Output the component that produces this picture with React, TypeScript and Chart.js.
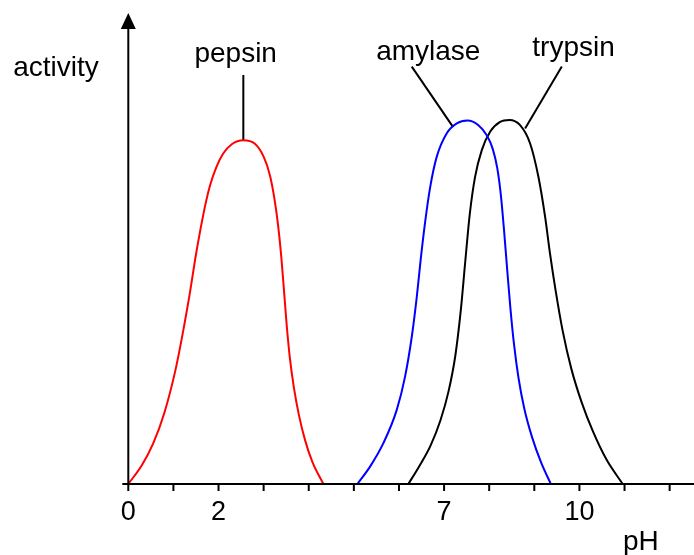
import React, { useEffect, useRef } from "react";
import { Chart, registerables } from "chart.js";

Chart.register(...registerables);

// pH (x) / activity (y)
const pepsinX = [0, 0.3, 0.55, 0.8, 1.05, 1.22, 1.37, 1.48, 1.59, 1.7, 1.81, 1.95, 2.1, 2.3, 2.55, 2.8, 3.0, 3.14, 3.24, 3.32, 3.39, 3.45, 3.51, 3.58, 3.67, 3.78, 3.92, 4.08, 4.324];
const pepsinY = [0, 4.0, 8.6, 15.2, 24.5, 32.8, 41.0, 47.8, 53.8, 59.2, 63.6, 67.5, 70.4, 72.5, 73.3, 72.6, 69.8, 65.8, 60.8, 55.2, 48.6, 41.4, 34.0, 27.0, 20.6, 14.8, 9.3, 4.7, 0];

const amylaseX = [5.078, 5.359, 5.654, 5.951, 6.135, 6.284, 6.395, 6.483, 6.579, 6.69, 6.838, 7.06, 7.282, 7.517, 7.761, 7.95, 8.08, 8.18, 8.26, 8.33, 8.4, 8.47, 8.55, 8.65, 8.78, 8.95, 9.15, 9.366];
const amylaseY = [0, 3.7, 8.7, 15.8, 22.9, 31.4, 39.9, 48.0, 55.8, 63.2, 69.8, 74.8, 76.9, 77.5, 76.5, 74.3, 71.4, 67.3, 61.5, 54.0, 45.6, 37.5, 29.8, 22.6, 16.0, 10.0, 4.6, 0];

const trypsinX = [6.208, 6.45, 6.7, 6.92, 7.1, 7.25, 7.37, 7.47, 7.57, 7.687, 7.836, 8.02, 8.242, 8.448, 8.685, 8.907, 9.091, 9.239, 9.35, 9.48, 9.63, 9.82, 10.05, 10.3, 10.6, 10.96];
const trypsinY = [0, 3.8, 8.2, 13.6, 19.8, 27.4, 37.0, 47.5, 57.6, 65.5, 71.2, 75.1, 77.2, 77.6, 76.5, 72.6, 65.5, 57.0, 49.0, 40.8, 32.6, 24.6, 17.4, 11.2, 5.2, 0];

// leader lines from labels to curves: [x0, x1], [y0, y1]
const pepsinLeaderX = [2.55, 2.55];
const pepsinLeaderY = [87.2, 73.3];
const amylaseLeaderX = [6.284, 7.193];
const amylaseLeaderY = [89.0, 76.2];
const trypsinLeaderX = [9.61, 8.796];
const trypsinLeaderY = [89.0, 75.8];

// curve labels: name, x, y (baseline)
const labelNames = ["pepsin", "amylase", "trypsin"];
const labelX = [2.38, 6.65, 9.87];
const labelY = [90.0, 90.4, 91.2];

// x axis ticks
const tickValues = [0, 1, 2, 3, 4, 5, 6, 7, 8, 9, 10, 11, 12];
const tickLabels = ["0", "", "2", "", "", "", "", "7", "", "", "10", "", ""];

const xTitle = "pH";
const yTitle = "activity";

const FONT = '"Liberation Sans", Arial, sans-serif';

function pts(xs: number[], ys: number[]) {
  return xs.map((x, i) => ({ x, y: ys[i] }));
}

const axesPlugin = {
  id: "customAxes",
  afterDatasetsDraw(chart: any) {
    const { ctx, scales } = chart;
    const xs = scales.x;
    const ys = scales.y;
    const x0 = xs.getPixelForValue(0);
    const y0 = ys.getPixelForValue(0);
    ctx.save();
    ctx.strokeStyle = "#000";
    ctx.fillStyle = "#000";
    ctx.lineWidth = 2;
    // x axis
    ctx.beginPath();
    ctx.moveTo(x0 - 6, y0);
    ctx.lineTo(chart.width, y0);
    ctx.stroke();
    // y axis
    ctx.beginPath();
    ctx.moveTo(x0, y0);
    ctx.lineTo(x0, 28);
    ctx.stroke();
    // arrow head
    ctx.beginPath();
    ctx.moveTo(x0, 13);
    ctx.lineTo(x0 - 7.5, 29);
    ctx.lineTo(x0 + 7.5, 29);
    ctx.closePath();
    ctx.fill();
    // ticks
    ctx.font = "27px " + FONT;
    ctx.textAlign = "center";
    ctx.textBaseline = "alphabetic";
    tickValues.forEach((v, i) => {
      const px = xs.getPixelForValue(v);
      ctx.beginPath();
      ctx.moveTo(px, y0);
      ctx.lineTo(px, y0 + 7);
      ctx.stroke();
      if (tickLabels[i]) ctx.fillText(tickLabels[i], px, 520);
    });
    // curve labels
    ctx.font = "28px " + FONT;
    labelNames.forEach((n, i) => {
      ctx.fillText(n, xs.getPixelForValue(labelX[i]), ys.getPixelForValue(labelY[i]));
    });
    // axis titles
    ctx.textAlign = "left";
    ctx.fillText(xTitle, 623, 550);
    ctx.textAlign = "center";
    ctx.fillText(yTitle, 56, 76);
    ctx.restore();
  },
};

export default function App() {
  const ref = useRef<HTMLCanvasElement | null>(null);
  useEffect(() => {
    document.body.style.margin = "0";
    if (!ref.current) return;
    const curve = (data: any, color: string) => ({
      data,
      borderColor: color,
      borderWidth: 2,
      pointRadius: 0,
      fill: false,
      cubicInterpolationMode: "monotone" as const,
    });
    const leader = (data: any) => ({
      data,
      borderColor: "#000",
      borderWidth: 2,
      pointRadius: 0,
      fill: false,
      tension: 0,
    });
    const chart = new Chart(ref.current, {
      type: "line",
      data: {
        datasets: [
          curve(pts(pepsinX, pepsinY), "#ff0000"),
          curve(pts(amylaseX, amylaseY), "#0000ff"),
          curve(pts(trypsinX, trypsinY), "#000000"),
          leader(pts(pepsinLeaderX, pepsinLeaderY)),
          leader(pts(amylaseLeaderX, amylaseLeaderY)),
          leader(pts(trypsinLeaderX, trypsinLeaderY)),
        ],
      },
      options: {
        responsive: false,
        animation: false,
        devicePixelRatio: 1,
        layout: { padding: { left: 128.3, right: 0, top: 15, bottom: 71 } },
        plugins: { legend: { display: false }, tooltip: { enabled: false } },
        scales: {
          x: { type: "linear", min: 0, max: 12.54, display: false },
          y: { type: "linear", min: 0, max: 100, display: false },
        },
        clip: false as any,
      },
      plugins: [axesPlugin],
    });
    return () => chart.destroy();
  }, []);
  return (
    <div style={{ position: "fixed", left: 0, top: 0, width: 694, height: 555, background: "#fff" }}>
      <canvas ref={ref} width={694} height={555} />
    </div>
  );
}
